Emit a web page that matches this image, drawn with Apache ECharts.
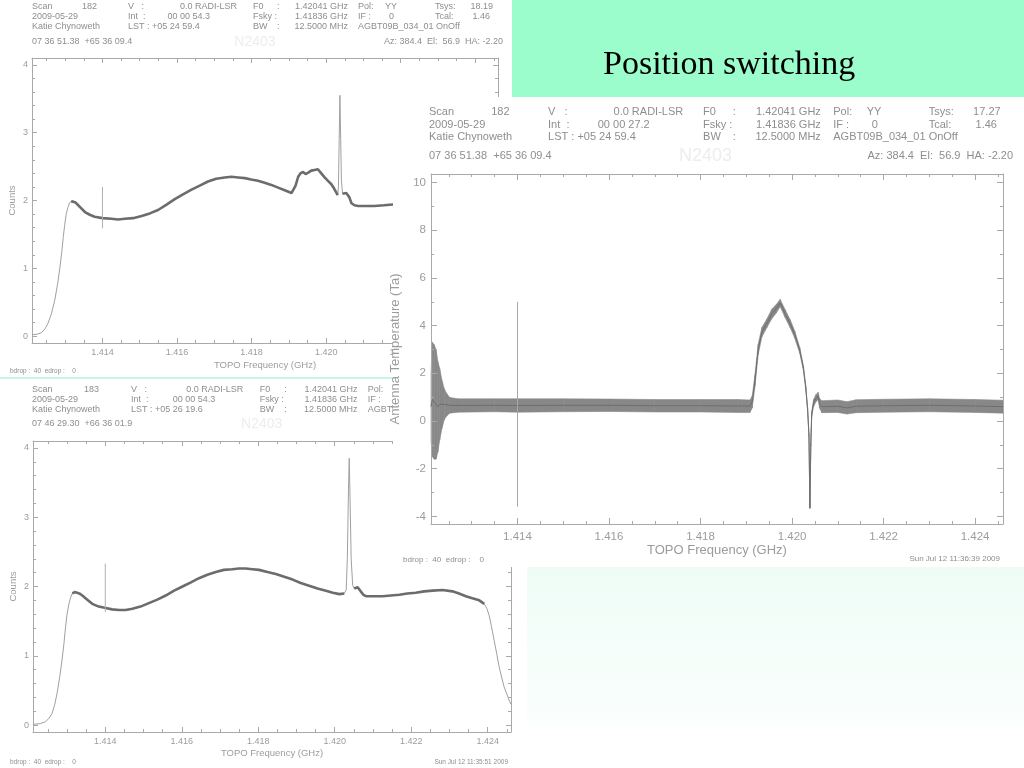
<!DOCTYPE html>
<html><head><meta charset="utf-8">
<script src="https://cdn.jsdelivr.net/npm/echarts@6/dist/echarts.min.js"></script>
<style>html,body{margin:0;padding:0;background:#fff}#c{width:1024px;height:768px}</style>
</head><body><div id="c"></div>
<script>
// ---------------- DATA ----------------
// Top-left spectrum (scan 182, counts)
const freqA = [1.41211,1.41225,1.41236,1.41246,1.41254,1.41263,1.41272,1.41280,1.41286,1.41291,1.41295,1.41299,1.41303,1.41308,1.41312,1.41316,1.41321,1.41328,1.41335,1.41344,1.41353,1.41366,1.41379,1.41400,1.41424,1.41442,1.41460,1.41482,1.41505,1.41527,1.41549,1.41572,1.41594,1.41616,1.41639,1.41661,1.41683,1.41705,1.41728,1.41746,1.41764,1.41782,1.41799,1.41817,1.41835,1.41853,1.41871,1.41889,1.41907,1.41911,1.41918,1.41925,1.41931,1.41938,1.41945,1.41952,1.41960,1.41969,1.41974,1.41978,1.41987,1.41996,1.42005,1.42014,1.42021,1.42027,1.42031,1.42033,1.42035,1.42037,1.42039,1.42041,1.42044,1.42049,1.42054,1.42058,1.42062,1.42068,1.42076,1.42086,1.42100,1.42129,1.42155,1.42179,1.42210,1.42250];
const countsA = [0.02,0.03,0.05,0.11,0.19,0.33,0.53,0.78,1.02,1.25,1.47,1.65,1.81,1.91,1.97,1.99,2.00,1.97,1.93,1.88,1.83,1.79,1.76,1.74,1.73,1.72,1.73,1.74,1.77,1.81,1.86,1.94,2.02,2.09,2.16,2.22,2.28,2.32,2.34,2.35,2.34,2.33,2.31,2.29,2.26,2.23,2.19,2.15,2.11,2.12,2.22,2.35,2.40,2.42,2.39,2.41,2.44,2.45,2.43,2.46,2.40,2.34,2.29,2.24,2.18,2.12,2.08,2.20,2.90,3.55,2.90,2.30,2.10,2.08,2.11,2.13,2.05,1.96,1.93,1.92,1.92,1.92,1.93,1.94,1.95,1.95];
const spikeA = [1.414, 1.59, 2.20];           // [freq, low, high]

// Bottom-left spectrum (scan 183, counts)
const freqB = [1.41211,1.41230,1.41244,1.41253,1.41261,1.41268,1.41274,1.41281,1.41287,1.41292,1.41296,1.41300,1.41305,1.41310,1.41314,1.41320,1.41325,1.41332,1.41340,1.41353,1.41366,1.41383,1.41401,1.41418,1.41436,1.41453,1.41471,1.41492,1.41514,1.41536,1.41558,1.41580,1.41602,1.41624,1.41645,1.41667,1.41689,1.41710,1.41732,1.41750,1.41767,1.41785,1.41802,1.41824,1.41846,1.41868,1.41890,1.41911,1.41933,1.41955,1.41977,1.41995,1.42012,1.42025,1.42030,1.42033,1.42036,1.42038,1.42040,1.42043,1.42047,1.42051,1.42056,1.42060,1.42064,1.42068,1.42075,1.42082,1.42103,1.42125,1.42147,1.42169,1.42190,1.42212,1.42234,1.42256,1.42282,1.42308,1.42325,1.42343,1.42360,1.42378,1.42391,1.42398,1.42404,1.42410,1.42417,1.42424,1.42430,1.42437,1.42443,1.42450,1.42456,1.42461];
const countsB = [0.01,0.02,0.05,0.10,0.17,0.30,0.46,0.70,0.94,1.18,1.41,1.60,1.75,1.85,1.90,1.92,1.92,1.90,1.87,1.81,1.75,1.71,1.69,1.67,1.66,1.66,1.68,1.71,1.76,1.81,1.87,1.94,2.00,2.06,2.12,2.17,2.21,2.24,2.25,2.26,2.26,2.25,2.24,2.21,2.18,2.14,2.10,2.05,2.01,1.97,1.94,1.91,1.89,1.90,1.95,2.40,3.40,3.85,3.30,2.40,2.02,1.97,1.98,1.99,1.97,1.93,1.88,1.86,1.86,1.86,1.87,1.88,1.90,1.91,1.93,1.94,1.95,1.93,1.90,1.86,1.83,1.80,1.75,1.68,1.58,1.42,1.22,1.02,0.84,0.68,0.55,0.45,0.36,0.30];
const spikeB = [1.414, 1.63, 2.33];

// Right spectrum (position-switched, antenna temperature): centre of noise band and half-width
const freqC = [1.41211,1.41214,1.41218,1.41222,1.41226,1.41230,1.41235,1.41240,1.41246,1.41252,1.41270,1.41350,1.41400,1.41500,1.41600,1.41700,1.41800,1.41880,1.41908,1.41913,1.41919,1.41926,1.41934,1.41945,1.41956,1.41966,1.41974,1.41985,1.41996,1.42006,1.42017,1.42025,1.42030,1.42034,1.42037,1.42039,1.42041,1.42043,1.42047,1.42052,1.42057,1.42060,1.42065,1.42100,1.42120,1.42140,1.42200,1.42300,1.42400,1.42461];
const taCenter = [0.6,0.9,0.8,0.7,0.6,0.7,0.7,0.7,0.68,0.66,0.65,0.66,0.65,0.66,0.66,0.64,0.64,0.63,0.62,0.8,1.7,3.0,3.72,4.1,4.5,4.72,4.95,4.5,4.08,3.62,2.95,2.2,1.4,0.5,-0.6,-3.65,-1.0,0.3,0.75,0.95,1.05,0.75,0.6,0.62,0.55,0.62,0.64,0.66,0.63,0.6];
const taSpread = [1.4,2.4,2.4,2.3,1.9,1.5,1.0,0.65,0.45,0.33,0.28,0.27,0.28,0.27,0.26,0.26,0.26,0.27,0.26,0.25,0.25,0.22,0.2,0.18,0.2,0.18,0.15,0.17,0.17,0.15,0.12,0.1,0.08,0.06,0.04,0.02,0.05,0.1,0.15,0.15,0.15,0.2,0.25,0.26,0.26,0.27,0.27,0.27,0.27,0.27];
const spikeC = [1.414, -3.6, 5.0];

// Axis ticks
const freqTicks = [1.414,1.416,1.418,1.420,1.422,1.424];
const freqMinor = [1.4125,1.413,1.4135,1.4145,1.415,1.4155,1.4165,1.417,1.4175,1.4185,1.419,1.4195,1.4205,1.421,1.4215,1.4225,1.423,1.4235,1.4245];
const countTicks = [0,1,2,3,4];
const countMinor = [0.2,0.4,0.6,0.8,1.2,1.4,1.6,1.8,2.2,2.4,2.6,2.8,3.2,3.4,3.6,3.8];
const taTicks = [-4,-2,0,2,4,6,8,10];
const taMinor = [-3,-1,1,3,5,7,9];

// Header texts
const headA = ['Scan','182','0.0 RADI-LSR','1.42041 GHz','YY','18.19','2009-05-29','00 00 54.3','1.41836 GHz','0','1.46','Katie Chynoweth','LST : +05 24 59.4','12.5000 MHz','AGBT09B_034_01 OnOff','07 36 51.38  +65 36 09.4','N2403','Az: 384.4  El:  56.9  HA: -2.20'];
const headB = ['Scan','183','0.0 RADI-LSR','1.42041 GHz','YY','18.19','2009-05-29','00 00 54.3','1.41836 GHz','0','1.46','Katie Chynoweth','LST : +05 26 19.6','12.5000 MHz','AGBT09B_034_01 OnOff','07 46 29.30  +66 36 01.9','N2403','Az: 384.4  El:  56.9  HA: -2.20'];
const headC = ['Scan','182','0.0 RADI-LSR','1.42041 GHz','YY','17.27','2009-05-29','00 00 27.2','1.41836 GHz','0','1.46','Katie Chynoweth','LST : +05 24 59.4','12.5000 MHz','AGBT09B_034_01 OnOff','07 36 51.38  +65 36 09.4','N2403','Az: 384.4  El:  56.9  HA: -2.20'];

// ---------------- CHART ----------------
const AX = '#a9a9a9', LBL = '#9c9c9c', HDR = '#8e8e8e';
const FONT = '"Liberation Sans", Arial, sans-serif';

function axes(dir, g, min, max, majors, minors, o) {
  const pos = dir === 'x' ? ['bottom', 'top'] : ['left', 'right'];
  const res = [];
  pos.forEach((p, k) => {
    res.push({
      type: 'value', gridIndex: g, position: p, min: min, max: max, z: o.z,
      splitLine: {show: false},
      axisLine: {show: true, onZero: false, lineStyle: {color: AX, width: 1}},
      axisTick: {show: true, inside: true, length: o.maj, customValues: majors, lineStyle: {color: AX, width: 1}},
      axisLabel: k === 0 ? {show: true, customValues: majors, formatter: o.fmt, color: LBL, fontSize: o.fs, fontFamily: FONT, margin: o.lm} : {show: false},
      name: k === 0 ? o.name : '', nameLocation: 'middle', nameGap: o.ng,
      nameTextStyle: {color: LBL, fontSize: o.nfs, fontFamily: FONT}
    });
    res.push({
      type: 'value', gridIndex: g, position: p, min: min, max: max, z: o.z,
      splitLine: {show: false},
      axisLine: {show: false, onZero: false},
      axisTick: {show: true, inside: true, length: o.mnr, customValues: minors, lineStyle: {color: AX, width: 1}},
      axisLabel: {show: false}
    });
  });
  return res;
}
const fx = v => v.toFixed(3);
const fy = v => String(v);
const F0 = 1.41211, F1 = 1.42461;

const xAxis = [].concat(
  axes('x', 0, F0, F1, freqTicks, freqMinor, {z: 0, maj: 5, mnr: 3, fmt: fx, fs: 9, lm: 5, name: 'TOPO Frequency (GHz)', ng: 17, nfs: 9.5}),
  axes('x', 1, F0, F1, freqTicks, freqMinor, {z: 0, maj: 5, mnr: 3, fmt: fx, fs: 9, lm: 5, name: 'TOPO Frequency (GHz)', ng: 16, nfs: 9.5}),
  axes('x', 2, F0, F1, freqTicks, freqMinor, {z: 10, maj: 6, mnr: 3, fmt: fx, fs: 11.5, lm: 7, name: 'TOPO Frequency (GHz)', ng: 20, nfs: 13})
);
const yAxis = [].concat(
  axes('y', 0, -0.1, 4.1, countTicks, countMinor, {z: 0, maj: 5, mnr: 3, fmt: fy, fs: 9, lm: 4, name: 'Counts', ng: 15, nfs: 9.5}),
  axes('y', 1, -0.1, 4.1, countTicks, countMinor, {z: 0, maj: 5, mnr: 3, fmt: fy, fs: 9, lm: 4, name: 'Counts', ng: 15, nfs: 9.5}),
  axes('y', 2, -4.32, 10.36, taTicks, taMinor, {z: 10, maj: 6, mnr: 3, fmt: fy, fs: 11.5, lm: 5, name: 'Antenna Temperature (Ta)', ng: 26, nfs: 13})
);

const zip = (xs, ys) => xs.map((x, i) => [x, ys[i]]);
function thick(xs, ys, lo, hi, g0, g1) {
  return xs.map((x, i) => (x >= lo && x <= hi && !(x > g0 && x < g1)) ? [x, ys[i]] : [x, '-']);
}
const base = {type: 'line', symbol: 'none', showSymbol: false, silent: true, animation: false, connectNulls: false};
function ax(g) { return {xAxisIndex: 4 * g, yAxisIndex: 4 * g}; }

// noise band segments for the right spectrum: [f0, lo0, hi0, f1, lo1, hi1]
const bandC = freqC.slice(0, -1).map((f, i) => [
  f, taCenter[i] - taSpread[i], taCenter[i] + taSpread[i],
  freqC[i + 1], taCenter[i + 1] - taSpread[i + 1], taCenter[i + 1] + taSpread[i + 1]]);

const series = [
  Object.assign({}, base, ax(0), {z: 2, data: zip(freqA, countsA), lineStyle: {color: '#a0a0a0', width: 1}}),
  Object.assign({}, base, ax(0), {z: 3, data: thick(freqA, countsA, 1.41316, 1.4226, 1.42032, 1.42043), lineStyle: {color: '#6c6c6c', width: 2.6}}),
  Object.assign({}, base, ax(0), {z: 3, data: [[spikeA[0], spikeA[1]], [spikeA[0], spikeA[2]]], lineStyle: {color: '#b0b0b0', width: 1}}),

  Object.assign({}, base, ax(1), {z: 2, data: zip(freqB, countsB), lineStyle: {color: '#a0a0a0', width: 1}}),
  Object.assign({}, base, ax(1), {z: 3, data: thick(freqB, countsB, 1.41314, 1.42391, 1.42029, 1.42048), lineStyle: {color: '#6c6c6c', width: 2.6}}),
  Object.assign({}, base, ax(1), {z: 3, data: [[spikeB[0], spikeB[1]], [spikeB[0], spikeB[2]]], lineStyle: {color: '#b0b0b0', width: 1}}),

  {type: 'custom', xAxisIndex: 8, yAxisIndex: 8, z: 10, silent: true, animation: false, data: bandC,
   encode: {x: [0, 3], y: [1, 2, 4, 5]},
   renderItem: function (params, api) {
     const a = api.coord([api.value(0), api.value(1)]);
     const b = api.coord([api.value(3), api.value(4)]);
     const c = api.coord([api.value(3), api.value(5)]);
     const d = api.coord([api.value(0), api.value(2)]);
     return {type: 'polygon', shape: {points: [a, b, c, d]}, style: {fill: '#888888', stroke: '#888888', lineWidth: 0.6}};
   }},
  Object.assign({}, base, ax(2), {z: 11, data: zip(freqC, taCenter), lineStyle: {color: '#6e6e6e', width: 1}}),
  Object.assign({}, base, ax(2), {z: 11, data: [[spikeC[0], spikeC[1]], [spikeC[0], spikeC[2]]], lineStyle: {color: '#a8a8a8', width: 1}})
];

// header layout (relative positions, base = top-left plot)
const headPos = [
  [0,0,'left'],[65,0,'right'],[205,0,'right'],[316,0,'right'],[353,0,'left'],[461,0,'right'],
  [0,1,'left'],[178,1,'right'],[316,1,'right'],[357,1,'left'],[458,1,'right'],
  [0,2,'left'],[96,2,'left'],[316,2,'right'],[326,2,'left'],
  [0,3,'left'],[223,3,'center'],[471,3,'right']
];
const headLabels = [
  [96,0,'V   :'],[221,0,'F0'],[245,0,':'],[326,0,'Pol:'],[403,0,'Tsys:'],
  [96,1,'Int  :'],[221,1,'Fsky :'],[326,1,'IF :'],[403,1,'Tcal:'],
  [221,2,'BW'],[245,2,':']
];
function header(texts, x0, y0, sx, rows, fs, nfs, z) {
  const els = [];
  headPos.forEach((p, i) => {
    const isN = texts[i] === 'N2403';
    els.push({type: 'text', z: z, silent: true, style: {
      text: texts[i], x: x0 + p[0] * sx, y: y0 + rows[p[1]], align: p[2], verticalAlign: 'middle',
      fill: isN ? '#ededed' : HDR, fontSize: isN ? nfs : fs, fontFamily: FONT}});
  });
  headLabels.forEach(p => {
    els.push({type: 'text', z: z, silent: true, style: {
      text: p[2], x: x0 + p[0] * sx, y: y0 + rows[p[1]], align: 'left', verticalAlign: 'middle',
      fill: HDR, fontSize: fs, fontFamily: FONT}});
  });
  return els;
}
function txt(t, x, y, fs, align, z, fill) {
  return {type: 'text', z: z, silent: true, style: {text: t, x: x, y: y, align: align || 'left', verticalAlign: 'middle', fill: fill || HDR, fontSize: fs, fontFamily: FONT}};
}

const graphic = [].concat(
  header(headA, 32, 7, 1, [0, 10, 20, 35], 9, 14, 1),
  header(headB, 32, 390, 1.03, [0, 10, 20, 34], 9, 14, 1),
  [txt('bdrop :  40  edrop :    0', 10, 371, 6.5, 'left', 1),
   txt('bdrop :  40  edrop :    0', 10, 762, 6.5, 'left', 1),
   txt('Sun Jul 12 11:35:51 2009', 508, 762, 6.5, 'right', 1),
   {type: 'rect', z: 4, silent: true, shape: {x: 0, y: 377, width: 393, height: 2}, style: {fill: '#c9f4e7'}},
   {type: 'rect', z: 5, silent: true, shape: {x: 393, y: 97, width: 631, height: 470}, style: {fill: '#ffffff'}},
   {type: 'rect', z: 6, silent: true, shape: {x: 527, y: 567, width: 497, height: 162},
     style: {fill: new echarts.graphic.LinearGradient(0, 0, 0, 1, [{offset: 0, color: '#eefcf6'}, {offset: 1, color: '#fbfffd'}])}},
   {type: 'rect', z: 12, silent: true, shape: {x: 512, y: 0, width: 512, height: 97}, style: {fill: '#9bfdcb'}},
   {type: 'text', z: 13, silent: true, style: {text: 'Position switching', x: 603, y: 65, align: 'left', verticalAlign: 'middle', fill: '#000', fontSize: 34, fontFamily: '"Liberation Serif", "Times New Roman", serif'}},
   txt('bdrop :  40  edrop :    0', 403, 560, 8, 'left', 11),
   txt('Sun Jul 12 11:36:39 2009', 1000, 559, 8, 'right', 11)
  ],
  header(headC, 429, 112, 1.24, [0, 13, 25, 44], 11, 18, 11)
);

const chart = echarts.init(document.getElementById('c'), null, {renderer: 'canvas'});
chart.setOption({
  animation: false,
  backgroundColor: '#ffffff',
  grid: [
    {left: 32, top: 58, width: 466, height: 285},
    {left: 33, top: 441, width: 478, height: 291},
    {left: 431, top: 174, width: 572, height: 350}
  ],
  xAxis: xAxis,
  yAxis: yAxis,
  series: series,
  graphic: graphic
});
</script></body></html>
